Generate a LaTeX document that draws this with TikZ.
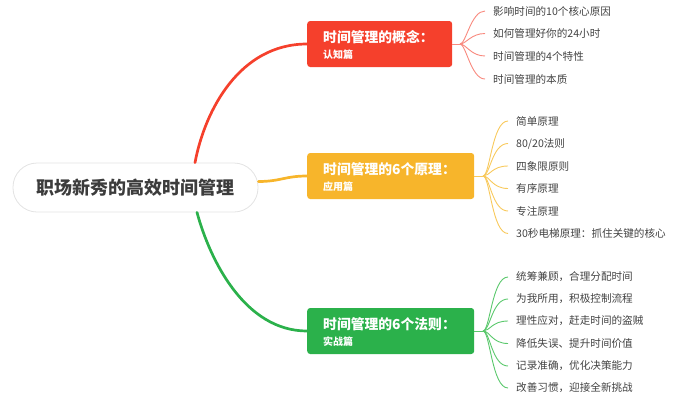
\documentclass[tikz,border=0pt]{standalone}
\usepackage{fontspec}
\setmainfont{Noto Sans CJK SC}
\usetikzlibrary{calc}
\definecolor{cred}{HTML}{F5402C}
\definecolor{corange}{HTML}{F7B52B}
\definecolor{cgreen}{HTML}{2BB14B}
\definecolor{lred}{HTML}{F8897E}
\definecolor{lorange}{HTML}{F8C95C}
\definecolor{lgreen}{HTML}{5AC86C}
\definecolor{roottxt}{HTML}{3C3C3C}
\definecolor{leaftxt}{HTML}{424242}
\definecolor{rootborder}{HTML}{E3E3E3}
\begin{document}
\begin{tikzpicture}[x=1pt,y=-1pt,
  rootnode/.style={draw=rootborder, line width=0.8pt, fill=white, rounded corners=24pt,
    minimum width=245pt, minimum height=49pt, inner sep=0pt,
    font=\fontsize{18}{21}\selectfont\bfseries, text=roottxt},
  boxnode/.style={rounded corners=3pt, minimum height=46pt, inner sep=0pt, anchor=west},
  titlenode/.style={anchor=west, inner sep=0pt, text=white, font=\fontsize{13.8}{16}\selectfont\bfseries},
  subnode/.style={anchor=west, inner sep=0pt, text=white, font=\fontsize{10}{12}\selectfont\bfseries},
  leafnode/.style={anchor=west, inner xsep=8pt, inner ysep=0pt, text=leaftxt, font=\fontsize{10.6}{12}\selectfont},
  mainline/.style={line width=2.7pt, line cap=round},
  leafline/.style={line width=0.9pt},
]
\useasboundingbox (0,0) rectangle (674,408);

% root
\node[rootnode] (root) at (135.5,187.5) {职场新秀的高效时间管理};

% boxes
\node[boxnode, fill=cred, minimum width=145pt] (b1) at (307,44) {};
\node[boxnode, fill=corange, minimum width=167pt] (b2) at (307,176) {};
\node[boxnode, fill=cgreen, minimum width=167pt] (b3) at (307,331) {};

\node[titlenode] (t1) at (323,37.5) {时间管理的概念：};
\node[subnode] (s1) at (323,54.5) {认知篇};
\node[titlenode] (t2) at (323,169.5) {时间管理的6个原理：};
\node[subnode] (s2) at (323,186.5) {应用篇};
\node[titlenode] (t3) at (323,324.5) {时间管理的6个法则：};
\node[subnode] (s3) at (323,341.5) {实战篇};

% main branches
\coordinate (r1) at ($(root.north)+(59.5,0)$);
\coordinate (r3) at ($(root.south)+(61.5,0)$);
\coordinate (r2) at ($(root.east)+(0,-6)$);
\draw[mainline, cred] (r1) .. controls +(10,-53) and +(-67,0) .. (b1.west);
\draw[mainline, corange] (r2) .. controls +(22,0) and +(-22,0) .. (b2.west);
\draw[mainline, cgreen] (r3) .. controls +(13,48) and +(-62,0) .. (b3.west);

% origins
\coordinate (o1) at (460,44);
\coordinate (o2) at (483,176);
\coordinate (o3) at (483,331);
\draw[leafline, lred] (b1.east) -- (o1);
\draw[leafline, lorange] (b2.east) -- (o2);
\draw[leafline, lgreen] (b3.east) -- (o3);

% red leaves
\node[leafnode] (l11) at (485,11) {影响时间的10个核心原因};
\node[leafnode] (l12) at (485,33.5) {如何管理好你的24小时};
\node[leafnode] (l13) at (485,56) {时间管理的4个特性};
\node[leafnode] (l14) at (485,79) {时间管理的本质};
\foreach \l in {l11,l12,l13,l14}
  \draw[leafline, lred] (o1) .. controls +(6,0) and +(-14,0) .. (\l.west);

% orange leaves
\node[leafnode] (l21) at (508,121) {简单原理};
\node[leafnode] (l22) at (508,143.5) {80/20法则};
\node[leafnode] (l23) at (508,166) {四象限原则};
\node[leafnode] (l24) at (508,188.5) {有序原理};
\node[leafnode] (l25) at (508,211) {专注原理};
\node[leafnode] (l26) at (508,233.5) {30秒电梯原理：抓住关键的核心};
\foreach \l in {l21,l22,l23,l24,l25,l26}
  \draw[leafline, lorange] (o2) .. controls +(7,0) and +(-16,0) .. (\l.west);

% green leaves
\node[leafnode] (l31) at (508,277) {统筹兼顾，合理分配时间};
\node[leafnode] (l32) at (508,299) {为我所用，积极控制流程};
\node[leafnode] (l33) at (508,321) {理性应对，赶走时间的盗贼};
\node[leafnode] (l34) at (508,343.5) {降低失误、提升时间价值};
\node[leafnode] (l35) at (508,366) {记录准确，优化决策能力};
\node[leafnode] (l36) at (508,388) {改善习惯，迎接全新挑战};
\foreach \l in {l31,l32,l33,l34,l35,l36}
  \draw[leafline, lgreen] (o3) .. controls +(7,0) and +(-16,0) .. (\l.west);
\end{tikzpicture}
\end{document}
